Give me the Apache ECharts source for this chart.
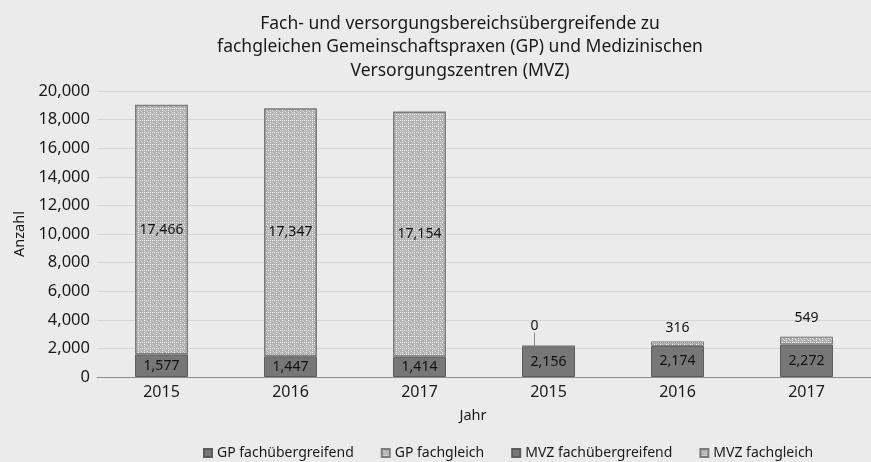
<!DOCTYPE html>
<html>
<head>
<meta charset="utf-8">
<script src="https://cdn.jsdelivr.net/npm/echarts@6/dist/echarts.min.js"></script>
<style>
  html, body { margin: 0; padding: 0; background: #ebebeb; }
  #main { width: 871px; height: 462px; }
</style>
</head>
<body>
<div id="main"></div>
<script>
// Jahre (x-Achse), GP links, MVZ rechts
var years = ['2015', '2016', '2017', '2015 ', '2016 ', '2017 '];
var gpUebergreifend = [1577, 1447, 1414, '-', '-', '-'];
var gpGleich = [17466, 17347, 17154, '-', '-', '-'];
var mvzUebergreifend = ['-', '-', '-', 2156, 2174, 2272];
var mvzGleich = ['-', '-', '-', 0, 316, 549];
var yTicks = [0, 20000, 2000]; // min, max, interval

var FONT = 'Noto Sans';

// Muster fuer die "fachgleich"-Balken
function makePattern(base, light, mid) {
  var c = document.createElement('canvas');
  c.width = 6; c.height = 6;
  var ctx = c.getContext('2d');
  ctx.fillStyle = base;
  ctx.fillRect(0, 0, 6, 6);
  ctx.fillStyle = light;
  for (var i = 0; i < 6; i += 2) {
    ctx.fillRect(i, 0, 1, 1);
    ctx.fillRect(0, i, 1, 1);
  }
  ctx.fillStyle = mid;
  ctx.fillRect(3, 3, 1, 1);
  ctx.fillRect(2, 2, 1, 1);
  ctx.fillRect(4, 4, 1, 1);
  return c;
}
var gpPattern = { image: makePattern('#b2b2b2', '#f4f4f4', '#d6d6d6'), repeat: 'repeat' };
var mvzPattern = { image: makePattern('#acacac', '#fafafa', '#e0e0e0'), repeat: 'repeat' };

var chart = echarts.init(document.getElementById('main'), null, { renderer: 'canvas' });

function fmt(v) {
  return Number(v).toLocaleString('en-US');
}

var labelStyle = {
  show: true,
  position: 'inside',
  color: '#111',
  fontFamily: FONT,
  fontSize: 14,
  formatter: function (p) { return fmt(p.value); }
};

// MVZ fachgleich: Beschriftungen wie im Original verschoben
var mvzGleichData = mvzGleich.map(function (v, i) {
  if (v === '-') return v;
  if (i === 3) {
    return { value: v, labelLine: { show: true } };
  }
  if (i === 5) {
    return { value: v, label: { distance: 12 } };
  }
  return { value: v };
});

var option = {
  backgroundColor: '#ebebeb',
  animation: false,
  title: {
    text: 'Fach- und versorgungsbereichsübergreifende zu\nfachgleichen Gemeinschaftspraxen (GP) und Medizinischen\nVersorgungszentren (MVZ)',
    left: 455,
    textAlign: 'center',
    top: 7,
    textStyle: {
      fontFamily: FONT,
      fontWeight: 'normal',
      fontSize: 17.5,
      lineHeight: 23.5,
      color: '#1a1a1a'
    }
  },
  legend: {
    bottom: -3,
    left: 198,
    itemWidth: 8,
    itemHeight: 8,
    itemGap: 27,
    icon: 'rect',
    textStyle: { fontFamily: FONT, fontSize: 14, color: '#1a1a1a' },
    data: ['GP fachübergreifend', 'GP fachgleich', 'MVZ fachübergreifend', 'MVZ fachgleich']
  },
  grid: {
    left: 97,
    top: 91,
    width: 796,
    bottom: 85
  },
  xAxis: {
    type: 'category',
    data: years,
    name: 'Jahr',
    nameLocation: 'middle',
    nameGap: 31,
    nameTextStyle: { fontFamily: FONT, fontSize: 14.5, color: '#1a1a1a', padding: [0, 22, 0, 0] },
    axisLine: { lineStyle: { color: '#8c8c8c', width: 1 } },
    axisTick: { show: false },
    axisLabel: {
      fontFamily: FONT,
      fontSize: 16,
      color: '#1a1a1a',
      margin: 7,
      formatter: function (v) { return v.trim(); }
    }
  },
  yAxis: {
    type: 'value',
    min: yTicks[0],
    max: yTicks[1],
    interval: yTicks[2],
    name: 'Anzahl',
    nameLocation: 'middle',
    nameGap: 70,
    nameTextStyle: { fontFamily: FONT, fontSize: 14.5, color: '#1a1a1a' },
    axisLine: { show: false },
    axisTick: { show: false },
    splitLine: { lineStyle: { color: '#d6d6d6', width: 1 } },
    axisLabel: {
      fontFamily: FONT,
      fontSize: 16.5,
      color: '#1a1a1a',
      margin: 7,
      formatter: fmt
    }
  },
  series: [
    {
      name: 'GP fachübergreifend',
      type: 'bar',
      stack: 'a',
      barWidth: 53,
      data: gpUebergreifend,
      itemStyle: { color: '#777777', borderColor: '#5c5c5c', borderWidth: 1 },
      label: labelStyle
    },
    {
      name: 'GP fachgleich',
      type: 'bar',
      stack: 'a',
      barWidth: 53,
      data: gpGleich,
      itemStyle: { color: gpPattern, borderColor: '#7c7c7c', borderWidth: 1.5 },
      label: labelStyle
    },
    {
      name: 'MVZ fachübergreifend',
      type: 'bar',
      stack: 'a',
      barWidth: 53,
      data: mvzUebergreifend,
      itemStyle: { color: '#777777', borderColor: '#5c5c5c', borderWidth: 1 },
      label: labelStyle
    },
    {
      name: 'MVZ fachgleich',
      type: 'bar',
      stack: 'a',
      barWidth: 53,
      data: mvzGleichData,
      itemStyle: { color: mvzPattern, borderColor: '#7c7c7c', borderWidth: 1 },
      label: {
        show: true,
        position: 'top',
        distance: 6,
        color: '#111',
        fontFamily: FONT,
        fontSize: 14,
        formatter: function (p) { return fmt(p.value); }
      },
      labelLine: {
        show: false,
        lineStyle: { color: '#8c8c8c', width: 1 }
      },
      labelLayout: function (params) {
        if (params.dataIndex === 3) {
          return { dx: -14, dy: -7 };
        }
        return {};
      }
    }
  ]
};

chart.setOption(option);
</script>
</body>
</html>
